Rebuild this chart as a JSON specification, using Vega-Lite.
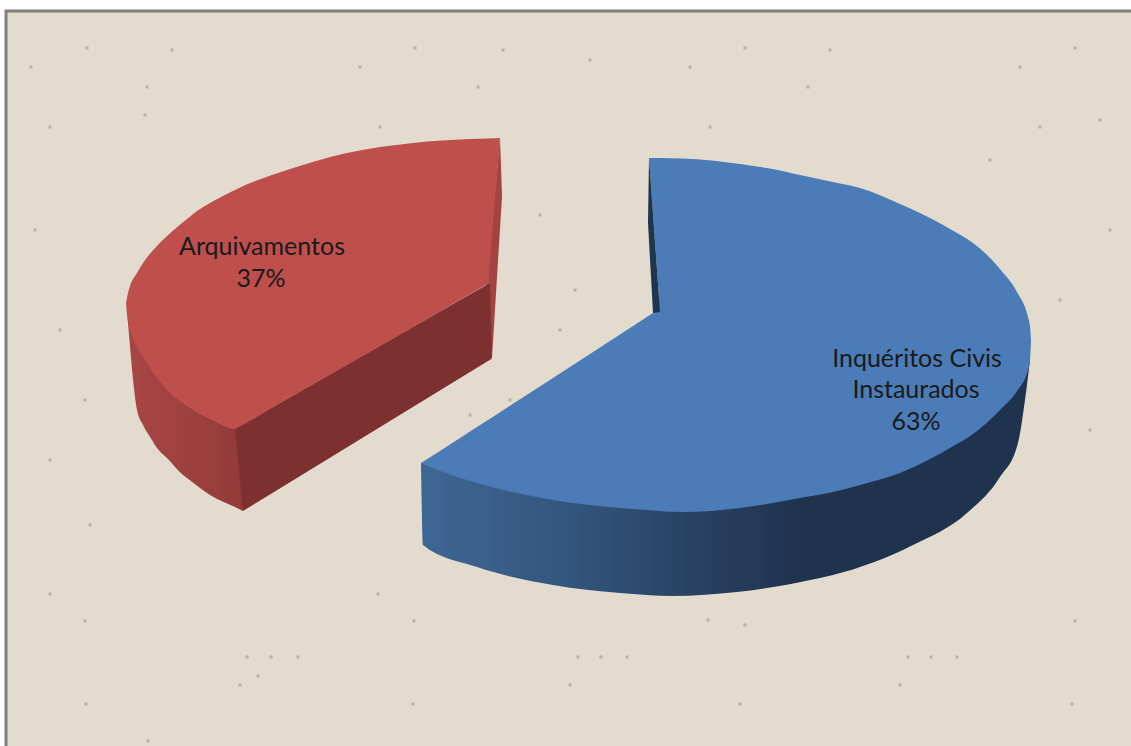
{"$schema":"https://vega.github.io/schema/vega-lite/v6.json","width":1131,"height":746,"autosize":{"type":"fit","contains":"padding"},"padding":0,"background":"#ffffff","config":{"view":{"stroke":null}},
"datasets":{
"specks":[{"x":87,"y":48},{"x":147,"y":87},{"x":31,"y":67},{"x":50,"y":127},{"x":172,"y":50},{"x":145,"y":115},{"x":415,"y":48},{"x":478,"y":87},{"x":360,"y":67},{"x":380,"y":127},{"x":503,"y":50},{"x":590,"y":60},{"x":745,"y":48},{"x":808,"y":87},{"x":690,"y":67},{"x":710,"y":127},{"x":830,"y":50},{"x":1075,"y":48},{"x":1100,"y":120},{"x":1020,"y":67},{"x":1040,"y":127},{"x":990,"y":160},{"x":35,"y":230},{"x":60,"y":330},{"x":85,"y":400},{"x":50,"y":460},{"x":90,"y":525},{"x":50,"y":594},{"x":85,"y":621},{"x":247,"y":657},{"x":271,"y":657},{"x":298,"y":657},{"x":258,"y":676},{"x":240,"y":685},{"x":86,"y":704},{"x":148,"y":741},{"x":413,"y":704},{"x":378,"y":594},{"x":414,"y":621},{"x":578,"y":657},{"x":601,"y":657},{"x":627,"y":657},{"x":570,"y":685},{"x":740,"y":704},{"x":708,"y":620},{"x":745,"y":625},{"x":908,"y":657},{"x":931,"y":657},{"x":957,"y":657},{"x":900,"y":685},{"x":1072,"y":704},{"x":1075,"y":621},{"x":1090,"y":430},{"x":1060,"y":300},{"x":1110,"y":230},{"x":540,"y":215},{"x":560,"y":330},{"x":575,"y":290},{"x":510,"y":400},{"x":470,"y":415}],
"bg":[{"x":6,"x2":1145,"y":11,"y2":760}],
"redWall":[{"x":486,"y":290,"y2":290},{"x":492,"y":225,"y2":358},{"x":500,"y":138,"y2":229},{"x":502,"y":195,"y2":197}],
"redCut":[{"x":235,"y":429,"y2":429},{"x":243,"y":424,"y2":511},{"x":488,"y":284,"y2":361},{"x":490,"y":284,"y2":360},{"x":492,"y":358,"y2":358}],
"redSide":[{"x":128,"y":316,"y2":323},{"x":137,"y":340,"y2":410},{"x":143,"y":350,"y2":425},{"x":152,"y":365,"y2":440},{"x":157,"y":372,"y2":448},{"x":167,"y":382,"y2":458},{"x":183,"y":397,"y2":475},{"x":187,"y":400,"y2":478},{"x":200,"y":407,"y2":488},{"x":210,"y":412,"y2":495},{"x":235,"y":423,"y2":507},{"x":243,"y":420,"y2":511}],
"redTop":[{"x":126,"y":303,"y2":303},{"x":128,"y":293,"y2":323},{"x":130,"y":286,"y2":330},{"x":137,"y":273,"y2":347},{"x":143,"y":263,"y2":357},{"x":157,"y":246,"y2":378},{"x":167,"y":236,"y2":390},{"x":187,"y":219,"y2":406},{"x":200,"y":209,"y2":414},{"x":210,"y":203,"y2":419},{"x":235,"y":190,"y2":429},{"x":237,"y":189,"y2":428},{"x":287,"y":170,"y2":399},{"x":347,"y":153,"y2":365},{"x":413,"y":143,"y2":327},{"x":470,"y":139,"y2":294},{"x":489,"y":138.5,"y2":283}],
"redTip":[{"x":488,"y":138.5,"y2":284},{"x":500,"y":138,"y2":138}],
"blueSide":[{"x":421,"y":463,"y2":463},{"x":423,"y":463,"y2":545},{"x":477,"y":478,"y2":567},{"x":553,"y":495,"y2":585},{"x":620,"y":503,"y2":593},{"x":673,"y":507,"y2":596},{"x":737,"y":503,"y2":592},{"x":820,"y":490,"y2":578},{"x":833,"y":486,"y2":575},{"x":913,"y":460,"y2":545},{"x":967,"y":432,"y2":513},{"x":1000,"y":404,"y2":477},{"x":1018,"y":384,"y2":443},{"x":1025,"y":372,"y2":400},{"x":1030,"y":355,"y2":360}],
"blueTopA":[{"x":421,"y":463,"y2":463},{"x":443,"y":449,"y2":472},{"x":477,"y":427,"y2":483},{"x":553,"y":378,"y2":500},{"x":620,"y":334.5,"y2":508},{"x":653,"y":313,"y2":510.5},{"x":660,"y":308.5,"y2":511},{"x":670,"y":302,"y2":511.5}],
"blueTopB":[{"x":649,"y":158,"y2":158},{"x":655,"y":158,"y2":242},{"x":660,"y":158,"y2":312}],
"blueTopC":[{"x":659,"y":158,"y2":511},{"x":683,"y":158.5,"y2":512},{"x":740,"y":164,"y2":508},{"x":767,"y":168,"y2":504},{"x":800,"y":175,"y2":498},{"x":833,"y":182,"y2":492},{"x":860,"y":188,"y2":485},{"x":900,"y":204,"y2":473},{"x":930,"y":218,"y2":459},{"x":950,"y":229,"y2":448},{"x":973,"y":243,"y2":434},{"x":993,"y":261,"y2":417},{"x":1000,"y":269,"y2":410},{"x":1017,"y":292,"y2":391},{"x":1028,"y":317,"y2":370},{"x":1030,"y":326,"y2":360},{"x":1031,"y":340,"y2":342}],
"blueWall":[{"x":648,"y":223,"y2":223},{"x":649,"y":158,"y2":241},{"x":653,"y":214,"y2":313},{"x":660,"y":312,"y2":312}],
"labels":[{"category":"Arquivamentos","percent":37,"line":"Arquivamentos","x":262,"y":247},{"category":"Arquivamentos","percent":37,"line":"37%","x":261,"y":279},{"category":"Inquéritos Civis Instaurados","percent":63,"line":"Inquéritos Civis","x":917,"y":359},{"category":"Inquéritos Civis Instaurados","percent":63,"line":"Instaurados","x":916,"y":390},{"category":"Inquéritos Civis Instaurados","percent":63,"line":"63%","x":916,"y":422}]
},
"encoding":{"x":{"field":"x","type":"quantitative","scale":{"domain":[0,1131],"nice":false,"zero":false},"axis":null},"y":{"field":"y","type":"quantitative","scale":{"domain":[746,0],"nice":false,"zero":false},"axis":null}},
"layer":[
{"data":{"name":"bg"},"mark":{"type":"rect","clip":true,"fill":"#E3DCCE","stroke":"#808080","strokeWidth":3},"encoding":{"x2":{"field":"x2"},"y2":{"field":"y2"}}},
{"data":{"name":"specks"},"mark":{"type":"point","filled":true,"clip":true,"size":12,"color":"#A89F90","opacity":0.7},"encoding":{}},
{"data":{"name":"redWall"},"mark":{"type":"area","color":"#A34442"},"encoding":{"y2":{"field":"y2"}}},
{"data":{"name":"redSide"},"mark":{"type":"area","interpolate":"monotone","color":{"gradient":"linear","x1":0,"x2":1,"y1":0,"y2":0,"stops":[{"offset":0,"color":"#A84644"},{"offset":1,"color":"#933B39"}]}},"encoding":{"y2":{"field":"y2"}}},
{"data":{"name":"redCut"},"mark":{"type":"area","color":"#7C3030"},"encoding":{"y2":{"field":"y2"}}},
{"data":{"name":"redTop"},"mark":{"type":"area","interpolate":"monotone","color":"#BE4F4D"},"encoding":{"y2":{"field":"y2"}}},
{"data":{"name":"redTip"},"mark":{"type":"area","color":"#BE4F4D"},"encoding":{"y2":{"field":"y2"}}},
{"data":{"name":"blueSide"},"mark":{"type":"area","interpolate":"monotone","color":{"gradient":"linear","x1":0,"x2":1,"y1":0,"y2":0,"stops":[{"offset":0,"color":"#3E6695"},{"offset":0.22,"color":"#35577F"},{"offset":0.41,"color":"#2B4568"},{"offset":0.62,"color":"#1F334E"},{"offset":1,"color":"#1F334E"}]}},"encoding":{"y2":{"field":"y2"}}},
{"data":{"name":"blueTopA"},"mark":{"type":"area","interpolate":"monotone","color":"#4C7CB8"},"encoding":{"y2":{"field":"y2"}}},
{"data":{"name":"blueTopB"},"mark":{"type":"area","color":"#4C7CB8"},"encoding":{"y2":{"field":"y2"}}},
{"data":{"name":"blueTopC"},"mark":{"type":"area","interpolate":"monotone","color":"#4C7CB8"},"encoding":{"y2":{"field":"y2"}}},
{"data":{"name":"blueWall"},"mark":{"type":"area","color":"#1E3550"},"encoding":{"y2":{"field":"y2"}}},
{"data":{"name":"labels"},"mark":{"type":"text","font":"Lato","fontSize":25,"color":"#1a1a1a","align":"center","baseline":"middle"},"encoding":{"text":{"field":"line"}}}
]}
